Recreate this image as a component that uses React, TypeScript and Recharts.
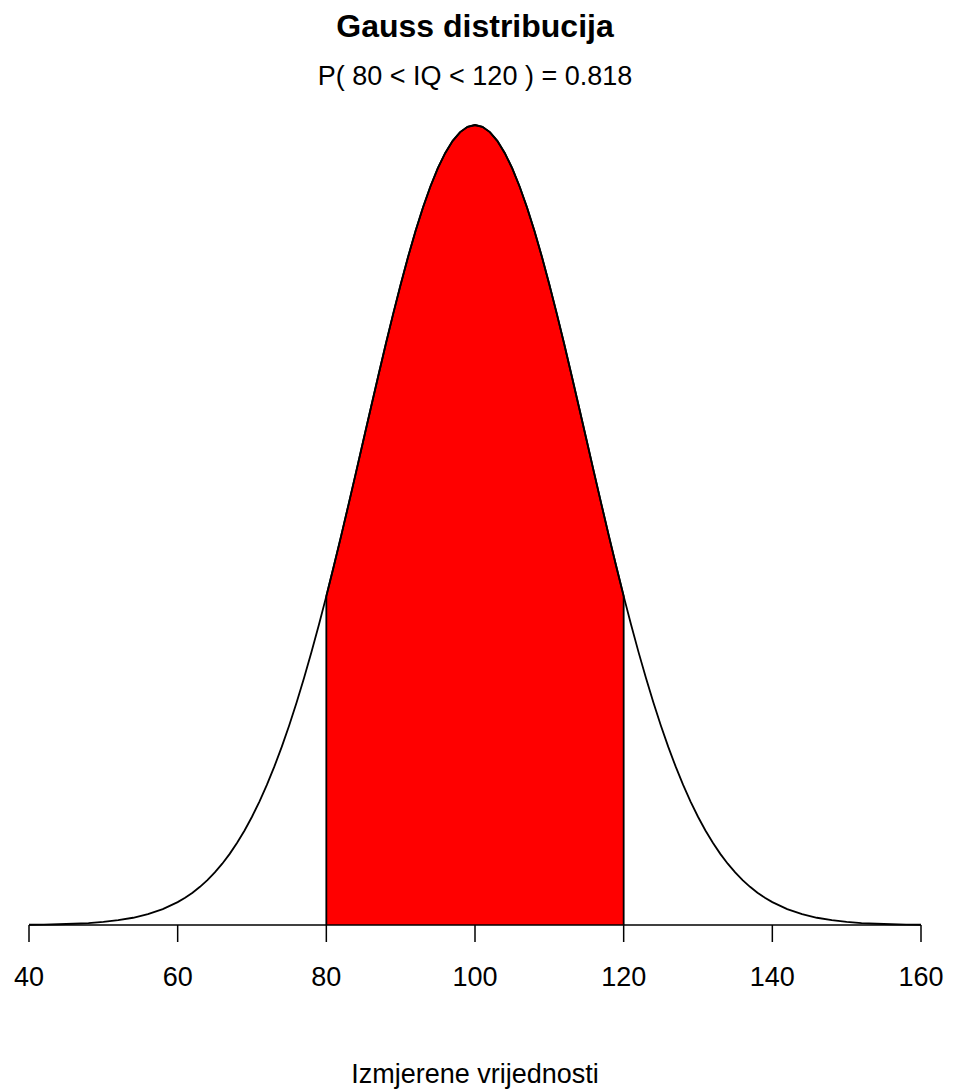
import React from 'react'
import { ComposedChart, Area, Line, XAxis, YAxis } from 'recharts'

// IQ values (x) and the density (finer steps in the middle)
const iqValues = [
  40, 42, 44, 46, 48, 50, 52, 54, 56, 58,
  60, 61, 62, 63, 64, 65, 66, 67, 68, 69,
  70, 71, 72, 73, 74, 75, 76, 77, 78, 79,
  80, 81, 82, 83, 84, 85, 86, 87, 88, 89,
  90, 91, 92, 93, 94, 95, 96, 97, 98, 99,
  100, 101, 102, 103, 104, 105, 106, 107, 108, 109,
  110, 111, 112, 113, 114, 115, 116, 117, 118, 119,
  120, 121, 122, 123, 124, 125, 126, 127, 128, 129,
  130, 131, 132, 133, 134, 135, 136, 137, 138, 139,
  140, 142, 144, 146, 148, 150, 152, 154, 156, 158, 160,
]

const densityValues = [
  0.0000089, 0.0000151, 0.000025, 0.0000408, 0.0000653, 0.000103, 0.000159, 0.000241, 0.00036, 0.000528,
  0.00076, 0.000906, 0.001075, 0.001269, 0.001493, 0.001748, 0.002038, 0.002365, 0.002733, 0.003143,
  0.003599, 0.004104, 0.004658, 0.005263, 0.005921, 0.006632, 0.007395, 0.008209, 0.009072, 0.009982,
  0.010934, 0.011924, 0.012946, 0.013993, 0.015057, 0.016131, 0.017205, 0.018269, 0.019313, 0.020325,
  0.021296, 0.022215, 0.02307, 0.023852, 0.024551, 0.025159, 0.025667, 0.026069, 0.026361, 0.026537,
  0.026596, 0.026537, 0.026361, 0.026069, 0.025667, 0.025159, 0.024551, 0.023852, 0.02307, 0.022215,
  0.021296, 0.020325, 0.019313, 0.018269, 0.017205, 0.016131, 0.015057, 0.013993, 0.012946, 0.011924,
  0.010934, 0.009982, 0.009072, 0.008209, 0.007395, 0.006632, 0.005921, 0.005263, 0.004658, 0.004104,
  0.003599, 0.003143, 0.002733, 0.002365, 0.002038, 0.001748, 0.001493, 0.001269, 0.001075, 0.000906,
  0.00076, 0.000528, 0.00036, 0.000241, 0.000159, 0.000103, 0.0000653, 0.0000408, 0.000025, 0.0000151, 0.0000089,
]

const lowerBound = 80
const upperBound = 120
const xTicks = [40, 60, 80, 100, 120, 140, 160]

const font = '"Liberation Sans", Arial, Helvetica, sans-serif'

// build rows; shaded region gets zero points at both edges so its outline drops to the axis
const rows: { x: number; density: number; shaded?: number }[] = []
iqValues.forEach((x, i) => {
  const d = densityValues[i]
  if (x === lowerBound) rows.push({ x, density: d, shaded: 0 })
  if (x >= lowerBound && x <= upperBound) rows.push({ x, density: d, shaded: d })
  else rows.push({ x, density: d })
  if (x === upperBound) rows.push({ x, density: d, shaded: 0 })
})

const peak = Math.max(...densityValues)

export default function App() {
  return (
    <div style={{ position: 'absolute', left: 0, top: 0, width: 953, height: 1092, background: '#fff' }}>
      <ComposedChart
        width={953}
        height={1092}
        data={rows}
        margin={{ top: 125, right: 32, bottom: 87, left: 29 }}
      >
        <XAxis
          dataKey="x"
          type="number"
          domain={[40, 160]}
          ticks={xTicks}
          interval={0}
          height={80}
          tickSize={17}
          tickMargin={25}
          axisLine={{ stroke: '#000', strokeWidth: 1.5 }}
          tickLine={{ stroke: '#000', strokeWidth: 1.5 }}
          tick={{ fill: '#000', fontSize: 27, fontFamily: font }}
        />
        <YAxis hide domain={[0, peak]} />
        <Area
          type="linear"
          dataKey="shaded"
          fill="#ff0000"
          fillOpacity={1}
          stroke="#000"
          strokeWidth={1.8}
          connectNulls={false}
          dot={false}
          activeDot={false}
          isAnimationActive={false}
        />
        <Line
          type="linear"
          dataKey="density"
          stroke="#000"
          strokeWidth={1.8}
          dot={false}
          activeDot={false}
          isAnimationActive={false}
        />
      </ComposedChart>
      <svg
        width={953}
        height={1092}
        style={{ position: 'absolute', left: 0, top: 0, pointerEvents: 'none' }}
      >
        <text x={475} y={37} textAnchor="middle" fontFamily={font} fontSize={32} fontWeight="bold" fill="#000">
          Gauss distribucija
        </text>
        <text x={475} y={85} textAnchor="middle" fontFamily={font} fontSize={27} fill="#000">
          P( 80 &lt; IQ &lt; 120 ) = 0.818
        </text>
        <text x={475} y={1083} textAnchor="middle" fontFamily={font} fontSize={27} fill="#000">
          Izmjerene vrijednosti
        </text>
      </svg>
    </div>
  )
}
